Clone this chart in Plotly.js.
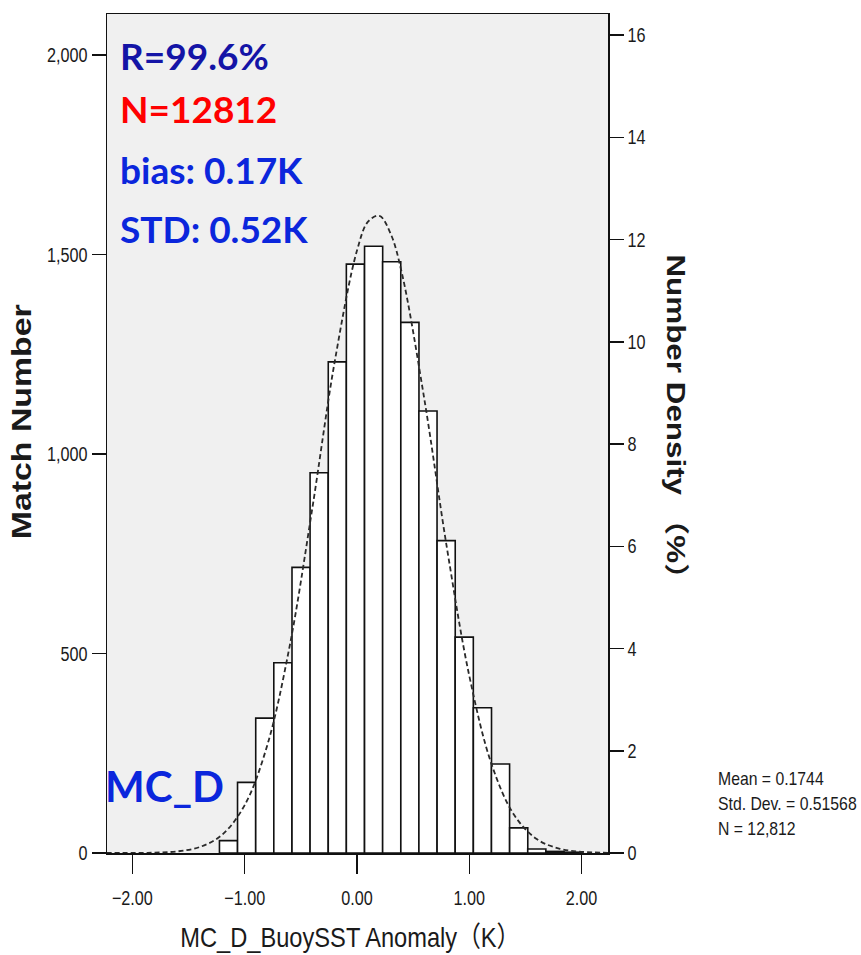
<!DOCTYPE html>
<html>
<head>
<meta charset="utf-8">
<script src="https://cdn.plot.ly/plotly-3.0.1.min.js"></script>
<style>html,body{margin:0;padding:0;background:#fff;}</style>
</head>
<body>
<div id="chart" style="width:861px;height:955px;"></div>
<script>
// ---- data ----
const binCenters = [-1.144, -0.983, -0.821, -0.660, -0.498, -0.337, -0.175, -0.014, 0.148, 0.309,
                    0.471, 0.632, 0.794, 0.955, 1.117, 1.278, 1.440, 1.601, 1.763, 1.924];
const binCounts  = [31, 177, 338, 477, 716, 953, 1231, 1476, 1521, 1482,
                    1330, 1108, 783, 541, 364, 223, 63, 10, 4, 2];
const binWidth = 0.1615;

const curveX = [-2.23, -2.0, -1.8, -1.6, -1.4, -1.2, -1.0, -0.8, -0.6, -0.4, -0.2, 0.0, 0.1, 0.2, 0.3, 0.4,
                0.6, 0.8, 1.0, 1.2, 1.4, 1.6, 1.8, 2.0, 2.24];
const curveY = [0, 0.2, 1, 4, 15, 46, 120, 269, 518, 860, 1229, 1510, 1583, 1597, 1552, 1453,
                1137, 766, 444, 221, 95, 35, 11, 3, 0.5];

const totalN = 12812;
const xTicks = [-2, -1, 0, 1, 2];
const yTicks = [0, 500, 1000, 1500, 2000];
const y2Ticks = [0, 2, 4, 6, 8, 10, 12, 14, 16];
const statLines = ["Mean = 0.1744", "Std. Dev. = 0.51568", "N = 12,812"];
const noteLines = ["R=99.6%", "N=12812", "bias: 0.17K", "STD: 0.52K"];
const panelLabel = "MC_D";

// ---- layout geometry ----
const W = 861, H = 955;
const L = 107, R = 608, T = 14, B = 853;
const pw = R - L, ph = B - T;
const px = x => (x - L) / pw;
const py = y => (B - y) / ph;

const yMax = 2103;
const tickFont = {family: "Liberation Sans, Arial", size: 20, color: "#1a1a1a"};

const traces = [
  {
    type: "bar", x: binCenters, y: binCounts, width: binWidth,
    marker: {color: "#ffffff", line: {color: "#111", width: 1.6}},
    hoverinfo: "skip", showlegend: false
  },
  {
    type: "scatter", mode: "lines", x: curveX, y: curveY,
    line: {color: "#2a2a2a", width: 1.8, dash: "5px,3px", shape: "spline", smoothing: 1.0},
    hoverinfo: "skip", showlegend: false
  },
  {
    type: "scatter", mode: "lines", x: [], y: [], yaxis: "y2",
    hoverinfo: "skip", showlegend: false
  }
];

const noteColors = ["#1414a6", "#ff0000", "#0b26dc", "#0b26dc"];
const noteY = [56, 108, 170, 228];
const annotations = noteLines.map((t, i) => ({
  text: t, xref: "paper", yref: "paper", x: px(118), y: py(noteY[i]),
  xanchor: "left", yanchor: "middle", align: "left", showarrow: false,
  font: {family: "Lato, Noto Sans, sans-serif", size: 37, color: noteColors[i], weight: 700}
}));
annotations.push({
  text: panelLabel, xref: "paper", yref: "paper", x: px(103), y: py(786),
  xanchor: "left", yanchor: "middle", align: "left", showarrow: false,
  font: {family: "Lato, Noto Sans, sans-serif", size: 42, color: "#0b26dc", weight: 700}
});
const statY = [778, 803, 828];
statLines.forEach((t, i) => annotations.push({
  text: t, xref: "paper", yref: "paper", x: px(716), y: py(statY[i]),
  xanchor: "left", yanchor: "middle", align: "left", showarrow: false, width: 143,
  font: {family: "Liberation Sans, Arial", size: 19, color: "#1a1a1a"}
}));
annotations.push({
  text: "Match Number", xref: "paper", yref: "paper", x: px(22), y: py(422),
  xanchor: "center", yanchor: "middle", textangle: -90, showarrow: false,
  font: {family: "Liberation Sans, Arial", size: 28, color: "#1a1a1a", weight: 700}
});
annotations.push({
  text: "Number Density （%）", xref: "paper", yref: "paper", x: px(676), y: py(424),
  xanchor: "center", yanchor: "middle", textangle: 90, showarrow: false,
  font: {family: "Liberation Sans, Noto Sans CJK SC, Arial", size: 25, color: "#1a1a1a", weight: 700}
});
annotations.push({
  text: "MC_D_BuoySST Anomaly（K）", xref: "paper", yref: "paper", x: px(350), y: py(955),
  xanchor: "center", yanchor: "bottom", showarrow: false,
  font: {family: "Liberation Sans, Noto Sans CJK SC", size: 28, color: "#1a1a1a"}
});

const layout = {
  width: W, height: H,
  margin: {l: L, r: W - R, t: T, b: H - B, pad: 0},
  paper_bgcolor: "#ffffff",
  plot_bgcolor: "#f0f0f0",
  bargap: 0,
  showlegend: false,
  xaxis: {
    range: [-2.226, 2.235], tickvals: xTicks, tickformat: ".2f",
    ticks: "outside", ticklen: 19, tickwidth: 1.5, tickcolor: "#111",
    ticklabelstandoff: 7,
    showline: true, linecolor: "#111", linewidth: 1.5, mirror: true,
    showgrid: false, zeroline: false, tickfont: tickFont
  },
  yaxis: {
    range: [0, yMax], tickvals: yTicks, tickformat: ",",
    ticks: "outside", ticklen: 14, tickwidth: 1.5, tickcolor: "#111",
    showline: true, linecolor: "#111", linewidth: 1.5, mirror: true,
    showgrid: false, zeroline: false, tickfont: tickFont
  },
  yaxis2: {
    overlaying: "y", side: "right",
    range: [0, yMax * 100 / totalN], tickvals: y2Ticks,
    ticks: "outside", ticklen: 14, tickwidth: 1.5, tickcolor: "#111",
    showline: true, linecolor: "#111", linewidth: 1.5,
    showgrid: false, zeroline: false, tickfont: tickFont
  },
  annotations: annotations
};

// narrow / stretch text glyphs horizontally to imitate the condensed look of the original
function fitText(el, factor, target) {
  if (!el) return;
  const len = el.getComputedTextLength();
  if (!len) return;
  el.setAttribute("textLength", target ? target : len * factor);
  el.setAttribute("lengthAdjust", "spacingAndGlyphs");
}

Plotly.newPlot("chart", traces, layout, {staticPlot: true, displayModeBar: false}).then(gd => {
  gd.querySelectorAll(".xtick text, .ytick text, .y2tick text").forEach(el => fitText(el, 0.81));
  const ann = i => gd.querySelector('.annotation[data-index="' + i + '"] text');
  const base = noteLines.length + 1;
  for (let i = 0; i < statLines.length; i++) fitText(ann(base + i), 0.83);
  fitText(ann(base + 3), 0, 235);   // Match Number
  fitText(ann(base + 4), 0, 340);   // Number Density (%)
  fitText(ann(base + 5), 0, 340);   // x title
});
</script>
</body>
</html>
